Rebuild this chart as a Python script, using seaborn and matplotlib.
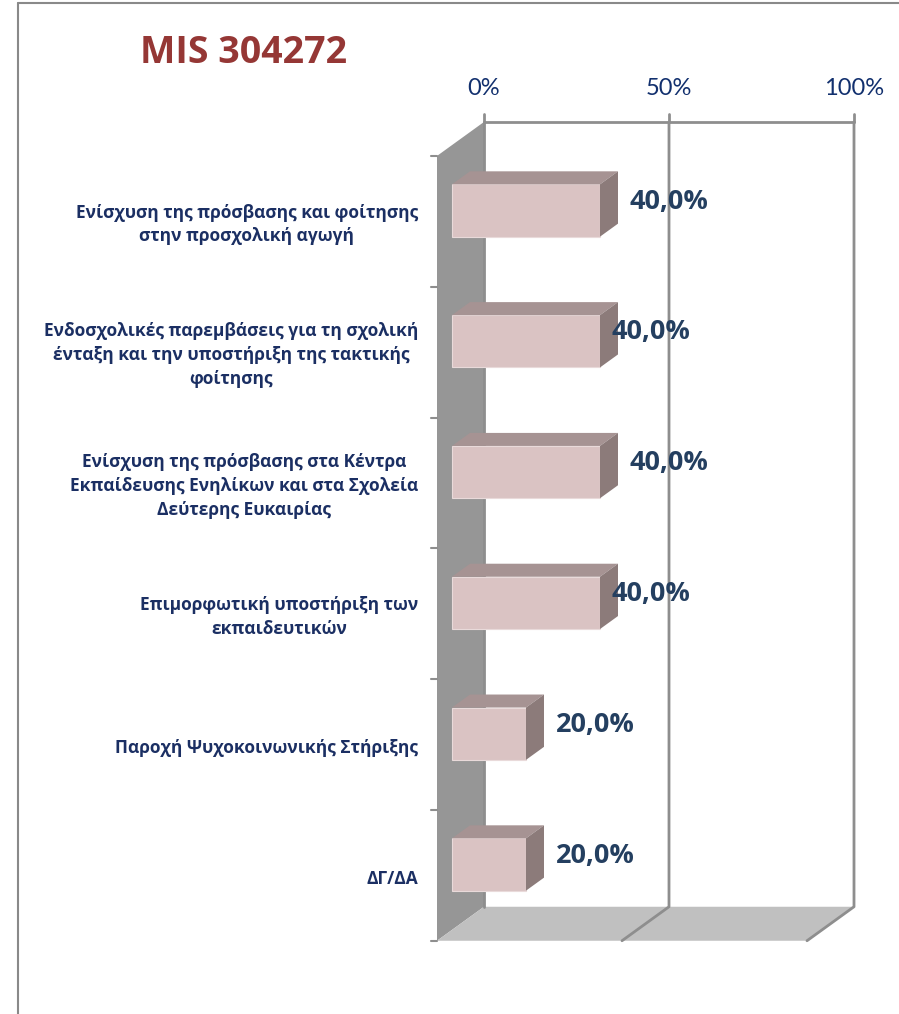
import matplotlib
matplotlib.use("Agg")
import matplotlib.pyplot as plt
from matplotlib.patches import Polygon
from matplotlib.lines import Line2D
import seaborn as sns
import pandas as pd

# ---- data ----
categories = [
    "Ενίσχυση της πρόσβασης και φοίτησης\nστην προσχολική αγωγή",
    "Ενδοσχολικές παρεμβάσεις για τη σχολική\nένταξη και την υποστήριξη της τακτικής\nφοίτησης",
    "Ενίσχυση της πρόσβασης στα Κέντρα\nΕκπαίδευσης Ενηλίκων και στα Σχολεία\nΔεύτερης Ευκαιρίας",
    "Επιμορφωτική υποστήριξη των\nεκπαιδευτικών",
    "Παροχή Ψυχοκοινωνικής Στήριξης",
    "ΔΓ/ΔΑ",
]
values = [40.0, 40.0, 40.0, 40.0, 20.0, 20.0]
value_labels = ["40,0%", "40,0%", "40,0%", "40,0%", "20,0%", "20,0%"]
x_ticks = [0, 50, 100]
x_tick_labels = ["0%", "50%", "100%"]
title = "MIS 304272"

df = pd.DataFrame({"category": categories, "value": values})

# ---- figure geometry ----
W, H, DPI = 899, 1014, 100
SX = 3.70      # pixels per percent
SY = 130.8     # pixels per category step
X0, Y0 = 452, 210.5   # pixel position of value 0 / first bar centre (bar front plane)

# depth direction of the pseudo-3D box (data units per unit depth)
DEPTH_DX = 47 / SX
DEPTH_DY = -34 / SY
BAR_D0, BAR_D1 = 15 / 47, 33 / 47   # bar front / back depth
BAR_W = 0.40

def proj(v, c, d):
    """Map (value, category, depth) to the data plane of the bar front faces."""
    return (v + (d - BAR_D0) * DEPTH_DX, c + (d - BAR_D0) * DEPTH_DY)

sns.set_theme(style="white")
plt.rcParams["font.family"] = ["Open Sans", "DejaVu Sans"]

fig = plt.figure(figsize=(W / DPI, H / DPI), dpi=DPI)
ax = fig.add_axes([0, 0, 1, 1])

NAVY = "#1B2F63"
LABEL_NAVY = "#243F60"
TICK_NAVY = "#12306E"
GRID = "#8E8E8E"
WALL = "#969696"
FLOOR = "#C0C0C0"
FRONT = "#DAC3C3"
TOP = "#A69393"
SIDE = "#8C7B7A"

n = len(categories)
c_top, c_bot = -0.5, n - 0.5

# left side wall
wall = [proj(0, c_top, 0), proj(0, c_top, 1), proj(0, c_bot, 1), proj(0, c_bot, 0)]
ax.add_patch(Polygon(wall, closed=True, facecolor=WALL, edgecolor="none", zorder=1))
# floor
floor = [proj(0, c_bot, 0), proj(0, c_bot, 1), proj(100, c_bot, 1), proj(100, c_bot, 0)]
ax.add_patch(Polygon(floor, closed=True, facecolor=FLOOR, edgecolor="none", zorder=1))

# gridlines on back wall and floor
for t, tl in zip(x_ticks, x_tick_labels):
    if t == 0:
        xs, ys = zip(proj(t, c_top, 1), proj(t, c_bot, 1))
    else:
        xs, ys = zip(proj(t, c_top, 1), proj(t, c_bot, 1), proj(t, c_bot, 0))
    ax.add_line(Line2D(xs, ys, color=GRID, lw=2.0, zorder=2))
    # small tick above the back wall
    xt, yt = proj(t, c_top, 1)
    ax.add_line(Line2D([xt, xt], [yt, yt - 8 / SY], color=GRID, lw=2.0, zorder=2))
    ax.text(xt, yt - 33 / SY, tl, ha="center", va="center",
            fontsize=17, color=TICK_NAVY, family=["Lato", "Open Sans", "DejaVu Sans"])
# top edge of the back wall
xs, ys = zip(proj(0, c_top, 1), proj(100, c_top, 1))
ax.add_line(Line2D(xs, ys, color=GRID, lw=2.0, zorder=2))

# category tick marks on the front edge of the side wall
for k in range(n + 1):
    xk, yk = proj(0, k - 0.5, 0)
    ax.add_line(Line2D([xk - 6 / SX, xk], [yk, yk], color=GRID, lw=1.5, zorder=2))

# bar front faces
sns.barplot(data=df, x="value", y="category", orient="h", width=BAR_W,
            color=FRONT, saturation=1, edgecolor="#E9DADA", linewidth=0.8,
            ax=ax, zorder=3)

# top and side faces of each bar
ddx = (BAR_D1 - BAR_D0) * DEPTH_DX
ddy = (BAR_D1 - BAR_D0) * DEPTH_DY
for i, v in enumerate(values):
    yt, yb = i - BAR_W / 2, i + BAR_W / 2
    top = [(0, yt), (v, yt), (v + ddx, yt + ddy), (ddx, yt + ddy)]
    side = [(v, yt), (v + ddx, yt + ddy), (v + ddx, yb + ddy), (v, yb)]
    ax.add_patch(Polygon(top, closed=True, facecolor=TOP, edgecolor="none", zorder=3))
    ax.add_patch(Polygon(side, closed=True, facecolor=SIDE, edgecolor="none", zorder=3))

# value labels
label_dx = [29, 12, 29, 12, 30, 30]
for i, (v, s) in enumerate(zip(values, value_labels)):
    ax.text(v + label_dx[i] / SX, i - 9 / SY, s, ha="left", va="center",
            fontsize=19.5, fontweight="bold", color=LABEL_NAVY)

# category labels
for i, lab in enumerate(categories):
    xl = (418 - X0) / SX
    ax.text(xl, i + 14 / SY, lab, ha="right", va="center", multialignment="center",
            fontsize=12.5, fontweight="bold", color=NAVY, linespacing=1.42)

# title
ax.text((244 - X0) / SX, (53 - Y0) / SY, title, ha="center", va="center",
        fontsize=27, fontweight="bold", color="#953735")

ax.set_xlim(-X0 / SX, (W - X0) / SX)
ax.set_ylim((H - Y0) / SY, -Y0 / SY)
ax.axis("off")

# outer chart frame (left and top edges)
fig.add_artist(Line2D([18 / W, 18 / W], [0, 1 - 3 / H], color="#898989", lw=1.5))
fig.add_artist(Line2D([18 / W, 1], [1 - 3 / H, 1 - 3 / H], color="#898989", lw=1.5))

fig.savefig("out.png", dpi=DPI, facecolor="white")
